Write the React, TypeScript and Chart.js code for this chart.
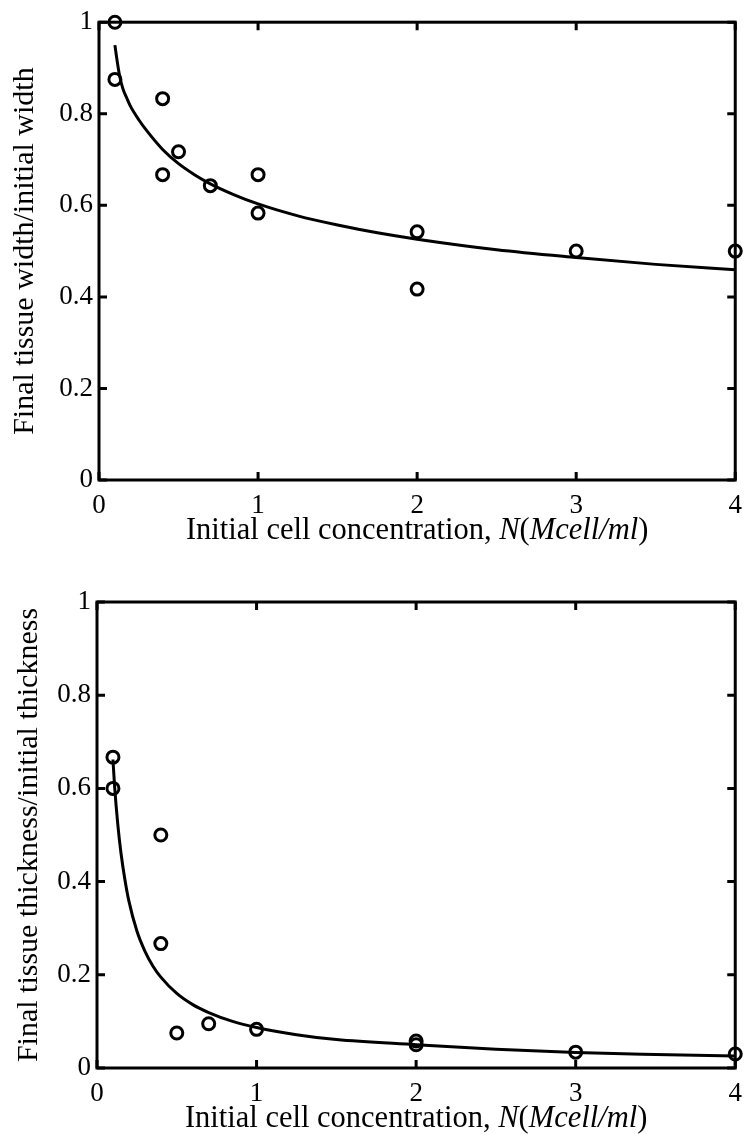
import React, { useEffect, useRef } from "react";
import { Chart, registerables } from "chart.js";
Chart.register(...registerables);

// ---------- data ----------
const xTickLabels = ["0", "1", "2", "3", "4"];
const yTickLabels = ["0", "0.2", "0.4", "0.6", "0.8", "1"];

// Top panel: width ratio
const widthN = [0.1, 0.1, 0.4, 0.4, 0.5, 0.7, 1, 1, 2, 2, 3, 4];
const widthRatio = [1.0, 0.875, 0.833, 0.667, 0.717, 0.643, 0.667, 0.583, 0.542, 0.417, 0.5, 0.5];
const widthFitN = [0.1, 0.11, 0.12, 0.13, 0.15, 0.18, 0.2, 0.25, 0.3, 0.4, 0.5, 0.6, 0.7, 0.85, 1, 1.25, 1.5, 1.75, 2, 2.5, 3, 3.5, 4];
const widthFitRatio = [0.95, 0.925, 0.902, 0.882, 0.855, 0.83, 0.815, 0.787, 0.763, 0.722, 0.691, 0.667, 0.647, 0.623, 0.603, 0.577, 0.557, 0.54, 0.526, 0.503, 0.486, 0.471, 0.459];

// Bottom panel: thickness ratio
const thickN = [0.1, 0.1, 0.4, 0.4, 0.5, 0.7, 1, 2, 2, 3, 4];
const thickRatio = [0.667, 0.6, 0.5, 0.267, 0.075, 0.095, 0.083, 0.058, 0.05, 0.034, 0.03];
const thickFitN = [0.1, 0.11, 0.13, 0.15, 0.175, 0.2, 0.25, 0.3, 0.35, 0.4, 0.5, 0.6, 0.7, 0.85, 1, 1.25, 1.5, 2, 2.5, 3, 3.5, 4];
const thickFitRatio = [0.662, 0.606, 0.524, 0.462, 0.404, 0.358, 0.294, 0.251, 0.219, 0.195, 0.16, 0.136, 0.119, 0.1, 0.087, 0.0715, 0.061, 0.05, 0.04, 0.033, 0.029, 0.026];

const xTitleParts = [
  { text: "Initial cell concentration, ", italic: false },
  { text: "N", italic: true },
  { text: "(", italic: false },
  { text: "Mcell/ml", italic: true },
  { text: ")", italic: false },
];

const FONT = "'Liberation Serif', 'Times New Roman', serif";
const CANVAS_W = 752;
const CANVAS_H = 567;

const framePlugin = {
  id: "matlabFrame",
  afterDraw(chart: any) {
    const { ctx, chartArea } = chart;
    const { left, right, top, bottom } = chartArea;
    const xs = chart.scales.x;
    const ys = chart.scales.y;
    ctx.save();
    ctx.strokeStyle = "#000";
    ctx.lineWidth = 3;
    ctx.lineCap = "butt";
    ctx.strokeRect(left, top, right - left, bottom - top);
    const tl = 8;
    ctx.beginPath();
    xs.ticks.forEach((t: any) => {
      const px = xs.getPixelForValue(t.value);
      ctx.moveTo(px, bottom);
      ctx.lineTo(px, bottom - tl);
      ctx.moveTo(px, top);
      ctx.lineTo(px, top + tl);
    });
    ys.ticks.forEach((t: any) => {
      const py = ys.getPixelForValue(t.value);
      ctx.moveTo(left, py);
      ctx.lineTo(left + tl, py);
      ctx.moveTo(right, py);
      ctx.lineTo(right - tl, py);
    });
    ctx.stroke();

    // x-axis title with mixed italic
    const size = 30.5;
    let total = 0;
    const widths: number[] = [];
    xTitleParts.forEach((p) => {
      ctx.font = `${p.italic ? "italic " : ""}${size}px ${FONT}`;
      const w = ctx.measureText(p.text).width;
      widths.push(w);
      total += w;
    });
    let x = (left + right) / 2 - total / 2;
    const baseY = bottom + 59;
    ctx.fillStyle = "#000";
    ctx.textBaseline = "alphabetic";
    ctx.textAlign = "left";
    xTitleParts.forEach((p, i) => {
      ctx.font = `${p.italic ? "italic " : ""}${size}px ${FONT}`;
      ctx.fillText(p.text, x, baseY);
      x += widths[i];
    });
    ctx.restore();
  },
};

type Area = { left: number; right: number; top: number; bottom: number };

function makeConfig(
  dataX: number[],
  dataY: number[],
  fitX: number[],
  fitY: number[],
  yTitle: string,
  area: Area,
  yTitlePad: number
): any {
  const points = dataX.map((x, i) => ({ x, y: dataY[i] }));
  const fit = fitX.map((x, i) => ({ x, y: fitY[i] }));
  return {
    type: "scatter",
    data: {
      datasets: [
        {
          data: fit,
          showLine: true,
          borderColor: "#000",
          borderWidth: 3,
          pointRadius: 0,
          fill: false,
          cubicInterpolationMode: "monotone",
          clip: false,
        },
        {
          data: points,
          showLine: false,
          pointStyle: "circle",
          pointRadius: 6,
          pointBorderWidth: 3,
          pointBorderColor: "#000",
          pointBackgroundColor: "rgba(0,0,0,0)",
          borderColor: "#000",
          backgroundColor: "rgba(0,0,0,0)",
          clip: false,
        },
      ],
    },
    options: {
      responsive: false,
      animation: false,
      events: [],
      devicePixelRatio: 1,
      layout: {
        padding: { left: 0, right: CANVAS_W - area.right, top: area.top, bottom: 0 },
      },
      plugins: { legend: { display: false }, tooltip: { enabled: false }, title: { display: false } },
      scales: {
        x: {
          type: "linear",
          min: 0,
          max: 4,
          afterFit: (s: any) => {
            s.height = CANVAS_H - area.bottom;
          },
          grid: { display: false, drawTicks: false },
          border: { display: false },
          ticks: {
            stepSize: 1,
            padding: 10,
            color: "#000",
            font: { family: FONT, size: 27 },
            callback: (_v: any, i: number) => xTickLabels[i],
          },
        },
        y: {
          type: "linear",
          min: 0,
          max: 1,
          afterFit: (s: any) => {
            s.width = area.left;
          },
          grid: { display: false, drawTicks: false },
          border: { display: false },
          ticks: {
            stepSize: 0.2,
            padding: 6,
            color: "#000",
            font: { family: FONT, size: 27 },
            callback: (_v: any, i: number) => yTickLabels[i],
          },
          title: {
            display: true,
            text: yTitle,
            color: "#000",
            font: { family: FONT, size: 30 },
            padding: { top: yTitlePad, bottom: 0 },
          },
        },
      },
    },
    plugins: [framePlugin],
  };
}

function Panel(props: { config: any; top: number }) {
  const ref = useRef<HTMLCanvasElement | null>(null);
  useEffect(() => {
    if (!ref.current) return;
    const chart = new Chart(ref.current, props.config);
    return () => chart.destroy();
  }, []);
  return (
    <canvas
      ref={ref}
      width={CANVAS_W}
      height={CANVAS_H}
      style={{ position: "absolute", left: 0, top: props.top, width: CANVAS_W, height: CANVAS_H, display: "block" }}
    />
  );
}

export default function App() {
  const topCfg = makeConfig(
    widthN,
    widthRatio,
    widthFitN,
    widthFitRatio,
    "Final tissue width/initial width",
    { left: 99, right: 743, top: 18, bottom: 480 },
    7
  );
  const botCfg = makeConfig(
    thickN,
    thickRatio,
    thickFitN,
    thickFitRatio,
    "Final tissue thickness/initial thickness",
    { left: 97, right: 746, top: 35, bottom: 501 },
    11
  );
  return (
    <div style={{ position: "absolute", left: 0, top: 0, width: 752, height: 1134, background: "#fff", overflow: "hidden" }}>
      <Panel config={topCfg} top={0} />
      <Panel config={botCfg} top={567} />
    </div>
  );
}
